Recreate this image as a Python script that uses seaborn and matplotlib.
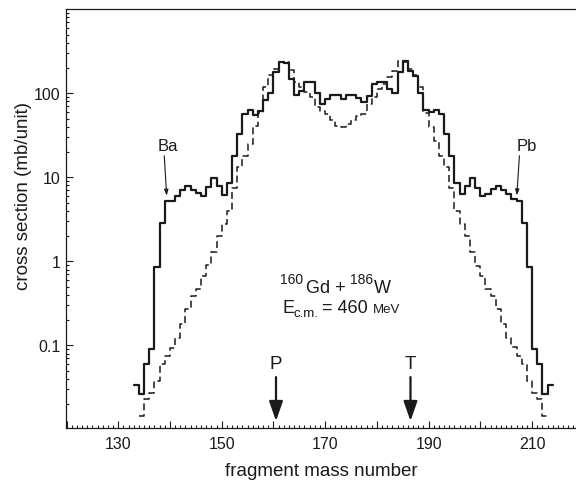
import numpy as np
import pandas as pd
import matplotlib
matplotlib.use("Agg")
import matplotlib.pyplot as plt
import seaborn as sns
from matplotlib.ticker import MultipleLocator, FixedLocator, FixedFormatter, LogLocator, NullFormatter, FuncFormatter

# ---------------- data ----------------
solid_mass = list(range(133, 214))
solid_cs = [0.034, 0.0266, 0.060, 0.090, 0.85, 2.9, 5.2, 5.3, 6.0, 7.1,
            7.9, 7.1, 6.5, 6.0, 7.6, 9.7, 7.9, 6.2, 8.5, 17.8,
            32.7, 56.7, 63.8, 55, 62, 83, 100, 181, 238, 229,
            150, 95, 107, 135, 135, 100, 75, 85, 95, 95,
            85, 95, 95, 87, 78, 94, 129, 137, 137, 112,
            100, 180, 240, 183, 162, 100, 63, 60, 63, 57,
            33, 17.8, 8.5, 6.3, 7.9, 9.7, 7.5, 6.0, 6.3, 7.2,
            7.9, 7.1, 6.3, 5.5, 5.3, 2.9, 0.85, 0.090, 0.060, 0.0266,
            0.034]

dashed_mass = list(range(134, 213))
dashed_cs = [0.0145, 0.023, 0.0275, 0.038, 0.060, 0.075, 0.092, 0.124, 0.18, 0.27,
             0.39, 0.47, 0.67, 0.90, 1.28, 2.0, 2.8, 4.0, 7.5, 13.2,
             18, 25, 41, 58, 120, 165, 195, 234, 235, 188,
             135, 120, 103, 90, 68, 62, 57, 48, 41, 40,
             43, 48, 53, 57, 74, 90, 113, 129, 155, 184,
             240, 234, 195, 165, 120, 58, 40, 27, 18, 13.2,
             7.5, 4.0, 2.8, 2.0, 1.28, 0.88, 0.67, 0.47, 0.39, 0.27,
             0.18, 0.124, 0.096, 0.075, 0.060, 0.038, 0.0275, 0.023, 0.0145]

x_ticks_major = [120, 130, 140, 150, 160, 170, 180, 190, 200, 210]
x_labels_shown = [130, 150, 170, 190, 210]
y_ticks = [0.1, 1, 10, 100]
y_labels = ["0.1", "1", "10", "100"]
projectile_mass, target_mass = 160, 186


def step_frame(mass, cs):
    # each bin spans [mass, mass+1]; close the last bin at its right edge
    edges = list(mass) + [mass[-1] + 1]
    vals = list(cs) + [cs[-1]]
    return pd.DataFrame({"edge": edges, "cs": vals})


# ---------------- style ----------------
sns.set_theme(style="ticks")
plt.rcParams["font.family"] = ["Liberation Sans", "DejaVu Sans"]

ink = "#1a1a1a"
W, H = 576, 481
fig = plt.figure(figsize=(W / 100, H / 100), dpi=100)
ax = fig.add_axes([66 / W, 1 - 429 / H, 1 - 66 / W, (429 - 10) / H])
ax.set_yscale("log")

sns.lineplot(data=step_frame(solid_mass, solid_cs), x="edge", y="cs", drawstyle="steps-post",
             estimator=None, sort=False, color=ink, linewidth=1.6, ax=ax)
sns.lineplot(data=step_frame(dashed_mass, dashed_cs), x="edge", y="cs", drawstyle="steps-post",
             estimator=None, sort=False, color=ink, linewidth=1.1, dashes=False,
             linestyle=(0, (4.5, 2.5)), ax=ax)

ax.set_xlim(119.9, 218.5)
ax.set_ylim(0.0104, 1008)

# ticks
ax.xaxis.set_major_locator(FixedLocator(x_ticks_major))
ax.xaxis.set_major_formatter(FuncFormatter(lambda v, p: f"{int(round(v))}" if int(round(v)) in x_labels_shown else ""))
ax.xaxis.set_minor_locator(MultipleLocator(1))
ax.yaxis.set_major_locator(FixedLocator(y_ticks))
ax.yaxis.set_major_formatter(FixedFormatter(y_labels))
ax.yaxis.set_minor_locator(LogLocator(base=10, subs=np.arange(2, 10)))
ax.yaxis.set_minor_formatter(NullFormatter())
ax.tick_params(which="both", direction="in", colors=ink, width=0.8, labelsize=11.5)
ax.tick_params(axis="x", pad=6)
ax.tick_params(axis="y", pad=4)
ax.tick_params(which="major", length=5)
ax.tick_params(which="minor", length=2.2)
for s in ["left", "bottom", "top"]:
    ax.spines[s].set_linewidth(0.9)
    ax.spines[s].set_color(ink)
ax.spines["right"].set_visible(False)

ax.set_xlabel("fragment mass number", fontsize=13.5, color=ink, labelpad=8)
ax.set_ylabel("cross section (mb/unit)", fontsize=13.5, color=ink)
ax.yaxis.set_label_coords(-0.0657, 0.556)


# reaction text (positions in figure pixels, measured on the reference)
def ftext(x, y, s, size, **kw):
    fig.text(x / W, 1 - y / H, s, fontsize=size, color=ink, ha="left", va="baseline", **kw)


ftext(280.0, 284.0, "160", 10)
ftext(306.5, 293.3, "Gd +", 13)
ftext(350.0, 284.0, "186", 10)
ftext(373.5, 293.3, "W", 13)
ftext(282.7, 313.3, "E", 13)
ftext(294.0, 317.0, "c.m.", 9.5)
ftext(321.5, 313.3, "= 460", 13)
ftext(373.0, 313.3, "MeV", 9.5)

ax.text(139.6, 23.9, "Ba", ha="center", va="center", fontsize=12, color=ink)
ax.annotate("", xy=(139.36, 6.04), xytext=(138.9, 18),
            arrowprops=dict(arrowstyle="-|>,head_length=0.35,head_width=0.12", mutation_scale=10,
                            color=ink, lw=0.8, shrinkA=0, shrinkB=0))
ax.text(209.0, 23.7, "Pb", ha="center", va="center", fontsize=12, color=ink)
ax.annotate("", xy=(207.06, 6.1), xytext=(207.56, 18.1),
            arrowprops=dict(arrowstyle="-|>,head_length=0.35,head_width=0.12", mutation_scale=10,
                            color=ink, lw=0.8, shrinkA=0, shrinkB=0))

for xm, lab in [(projectile_mass + 0.5, "P"), (target_mass + 0.5, "T")]:
    ax.text(xm, 0.0617, lab, ha="center", va="center", fontsize=13.5, color=ink)
    ax.annotate("", xy=(xm, 0.0126), xytext=(xm, 0.042),
                arrowprops=dict(arrowstyle="-|>,head_length=0.6,head_width=0.21", mutation_scale=20,
                                color=ink, lw=1.6, shrinkA=0, shrinkB=0))

fig.savefig("out.png", dpi=100)
